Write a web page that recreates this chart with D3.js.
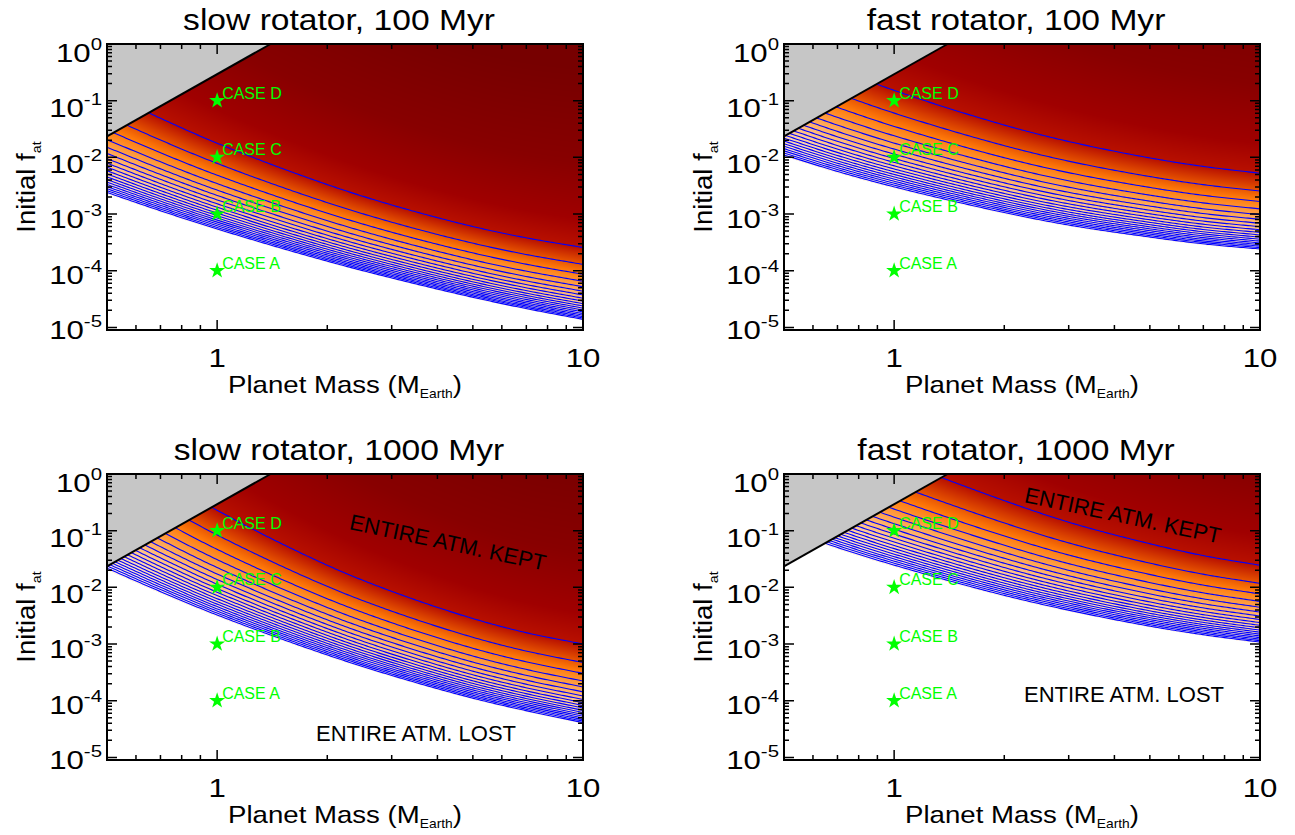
<!DOCTYPE html>
<html>
<head>
<meta charset="utf-8">
<script src="https://cdn.jsdelivr.net/npm/d3@7"></script>
<style>
  body { margin: 0; background: #fff; }
  text { font-family: "Liberation Sans", Arial, sans-serif; }
</style>
</head>
<body>
<svg id="chart" width="1295" height="835"></svg>
<script>
// Data ======================================================

const masses = [0.5, 0.7, 1, 2, 3, 5, 7, 10];

// log10 initial f_at of the edge where the whole atmosphere is lost
const slow100Lost = [-2.65, -2.97, -3.29, -3.855, -4.15, -4.49, -4.69, -4.88];
const fast100Lost = [-1.99, -2.28, -2.55, -3.00, -3.22, -3.43, -3.55, -3.64];
const slow1000Lost = [-1.70, -2.11, -2.52, -3.22, -3.58, -3.98, -4.20, -4.41];
const fast1000Lost = [-1.00, -1.33, -1.64, -2.17, -2.43, -2.71, -2.86, -2.99];

// log10 initial f_at of the 95% kept contour
const slow100Top = [-0.86, -1.31, -1.75, -2.48, -2.84, -3.22, -3.42, -3.59];
const fast100Top = [-0.06, -0.445, -0.818, -1.43, -1.72, -2.01, -2.16, -2.28];
const slow1000Top = [0.55, -0.05, -0.64, -1.61, -2.07, -2.55, -2.80, -3.00];
const fast1000Top = [1.10, 0.67, 0.26, -0.47, -0.85, -1.23, -1.44, -1.61];

// fraction of atmosphere kept, contour levels
const contourLevels = [0.05, 0.10, 0.15, 0.20, 0.25, 0.30, 0.35, 0.40, 0.45, 0.50,
                       0.55, 0.60, 0.65, 0.70, 0.75, 0.80, 0.85, 0.90, 0.95];

// grey forbidden corner, edge from (mass, f_at) to (mass, f_at)
const greyMass = [0.5, 1.40];
const greyFat = [0.0234, 1];

// the four test cases
const caseNames = ["CASE A", "CASE B", "CASE C", "CASE D"];
const caseFat = [1e-4, 1e-3, 1e-2, 1e-1];
const caseMass = 1;

// axes
const xDomain = [0.5, 10];
const yDomain = [9e-6, 1];
const xMajor = [1, 10];
const xMinor = [0.6, 0.7, 0.8, 0.9, 2, 3, 4, 5, 6, 7, 8, 9];
const yMajorExp = [0, -1, -2, -3, -4, -5];
const yMinorMant = [2, 3, 4, 5, 6, 7, 8, 9];

// colours from lost (0) to fully kept
const colourStops = [0, 0.15, 0.4, 0.65, 0.85, 1.05, 1.3, 1.8, 2.8, 4.5];
const colourRange = ["#fff4ea", "#ffe0c0", "#ffbf80", "#ff9a3c", "#ff7a0a",
                     "#e04a00", "#b81000", "#a00000", "#880000", "#770000"];

// Layout =====================================================
const pw = 476, ph = 286;
const panels = [
  { title: "slow rotator, 100 Myr", lost: slow100Lost, top: slow100Top, left: 107, top0: 44 },
  { title: "fast rotator, 100 Myr", lost: fast100Lost, top: fast100Top, left: 784, top0: 44 },
  { title: "slow rotator, 1000 Myr", lost: slow1000Lost, top: slow1000Top, left: 107, top0: 474,
    kept: [448, 542], gone: [416, 741] },
  { title: "fast rotator, 1000 Myr", lost: fast1000Lost, top: fast1000Top, left: 784, top0: 474,
    kept: [1123, 515], gone: [1124, 702] }
];

const svg = d3.select("#chart");
const colour = d3.scaleLinear().domain(colourStops).range(colourRange).clamp(true);
const U95 = -Math.log10(1 - 0.95);

// Helpers ====================================================

// monotone cubic through (xs, ys)
function smooth(xs, ys) {
  const n = xs.length, d = [], m = [];
  for (let i = 0; i < n - 1; i++) d[i] = (ys[i + 1] - ys[i]) / (xs[i + 1] - xs[i]);
  m[0] = d[0]; m[n - 1] = d[n - 2];
  for (let i = 1; i < n - 1; i++) m[i] = d[i - 1] * d[i] <= 0 ? 0 : (d[i - 1] + d[i]) / 2;
  return function(x) {
    let i = Math.max(0, Math.min(n - 2, d3.bisectRight(xs, x) - 1));
    const h = xs[i + 1] - xs[i], t = (x - xs[i]) / h;
    const t2 = t * t, t3 = t2 * t;
    return (2 * t3 - 3 * t2 + 1) * ys[i] + (t3 - 2 * t2 + t) * h * m[i] +
           (-2 * t3 + 3 * t2) * ys[i + 1] + (t3 - t2) * h * m[i + 1];
  };
}

// stretched text, as the original font is wide
function label(g, x, y, size, sx, parts, anchor) {
  const t = g.append("g").attr("transform", `translate(${x},${y}) scale(${sx},1)`)
    .append("text").attr("font-size", size).attr("text-anchor", anchor || "middle").attr("fill", "#000");
  parts.forEach(p => {
    t.append("tspan").text(p[0]).attr("font-size", p[1] || size).attr("dy", p[2] || 0);
  });
  return t;
}

function drawPanel(p, idx) {
  const x = d3.scaleLog().domain(xDomain).range([p.left, p.left + pw]);
  const y = d3.scaleLog().domain(yDomain).range([p.top0 + ph, p.top0]);
  const lm = masses.map(Math.log10);
  const lostFn = smooth(lm, p.lost), topFn = smooth(lm, p.top);
  const g = svg.append("g");

  g.append("clipPath").attr("id", "clip" + idx)
    .append("rect").attr("x", p.left).attr("y", p.top0).attr("width", pw).attr("height", ph);

  // filled map of kept fraction
  const canvas = document.createElement("canvas");
  canvas.width = pw; canvas.height = ph;
  const ctx = canvas.getContext("2d");
  const img = ctx.createImageData(pw, ph);
  for (let i = 0; i < pw; i++) {
    const lmass = Math.log10(x.invert(p.left + i + 0.5));
    const fb = lostFn(lmass), ft = topFn(lmass);
    for (let j = 0; j < ph; j++) {
      const lf = Math.log10(y.invert(p.top0 + j + 0.5));
      const u = (lf - fb) / (ft - fb) * U95;
      const k = (j * pw + i) * 4;
      if (u < 0) {
        img.data[k] = 255; img.data[k + 1] = 255; img.data[k + 2] = 255; img.data[k + 3] = 255;
      } else {
        const c = d3.rgb(colour(u));
        img.data[k] = c.r; img.data[k + 1] = c.g; img.data[k + 2] = c.b; img.data[k + 3] = 255;
      }
    }
  }
  ctx.putImageData(img, 0, 0);
  g.append("image").attr("href", canvas.toDataURL())
    .attr("x", p.left).attr("y", p.top0).attr("width", pw).attr("height", ph);

  // contours of kept fraction
  const samples = d3.range(0, 201).map(i => Math.log10(xDomain[0]) + i / 200 * Math.log10(xDomain[1] / xDomain[0]));
  const line = d3.line().x(d => x(Math.pow(10, d[0]))).y(d => y(Math.pow(10, d[1])));
  g.append("g").attr("clip-path", `url(#clip${idx})`)
    .selectAll("path").data(contourLevels).enter().append("path")
    .attr("d", r => line(samples.map(s => {
      const fb = lostFn(s), ft = topFn(s);
      return [s, fb + (ft - fb) * (-Math.log10(1 - r)) / U95];
    })))
    .attr("fill", "none").attr("stroke", "#0000ff").attr("stroke-width", 1.1);

  // grey corner
  g.append("path")
    .attr("d", `M${x(greyMass[0])},${y(1)}L${x(greyMass[0])},${y(greyFat[0])}L${x(greyMass[1])},${y(greyFat[1])}Z`)
    .attr("fill", "#c6c6c6");
  g.append("line")
    .attr("x1", x(greyMass[0])).attr("y1", y(greyFat[0]))
    .attr("x2", x(greyMass[1])).attr("y2", y(greyFat[1]))
    .attr("stroke", "#000").attr("stroke-width", 2);

  // frame and ticks
  g.append("rect").attr("x", p.left).attr("y", p.top0).attr("width", pw).attr("height", ph)
    .attr("fill", "none").attr("stroke", "#000").attr("stroke-width", 2);
  const xt = xMajor.map(v => [v, 10]).concat(xMinor.map(v => [v, 5]));
  g.selectAll(".xt").data(xt).enter().append("path")
    .attr("d", d => `M${x(d[0])},${p.top0 + ph}v${-d[1]}M${x(d[0])},${p.top0}v${d[1]}`)
    .attr("stroke", "#000").attr("stroke-width", 1.5);
  const yt = [];
  yMajorExp.forEach(e => yt.push([Math.pow(10, e), 10]));
  yMajorExp.concat([-6]).forEach(e => yMinorMant.forEach(m => {
    const v = m * Math.pow(10, e);
    if (v >= yDomain[0] && v < yDomain[1]) yt.push([v, 5]);
  }));
  g.selectAll(".yt").data(yt).enter().append("path")
    .attr("d", d => `M${p.left},${y(d[0])}h${d[1]}M${p.left + pw},${y(d[0])}h${-d[1]}`)
    .attr("stroke", "#000").attr("stroke-width", 1.5);

  // tick labels
  xMajor.forEach(v => label(g, x(v), p.top0 + ph + 37, 26, 1.2, [[String(v)]]));
  yMajorExp.forEach(e => label(g, p.left - 5, y(Math.pow(10, e)) + 18 + 1.3 * e, 26, 1.2,
    [["10"], [String(e), 17, -12]], "end"));

  // axis titles
  label(g, p.left + pw / 2, p.top0 + ph + 63, 24, 1.15,
    [["Planet Mass (M"], ["Earth", 12, 5], [")", 24, -5]]);
  const yl = g.append("g").attr("transform", `translate(${p.left - 72},${p.top0 + ph / 2}) rotate(-90)`);
  label(yl, 0, 0, 25, 1.1, [["Initial f"], ["at", 13, 6]]);

  // title
  label(g, p.left + pw / 2 - 6, p.top0 - 14, 30, 1.12, [[p.title]]);

  // cases
  const star = d3.symbol().type(d3.symbolStar).size(80);
  caseFat.forEach((f, i) => {
    g.append("path").attr("d", star())
      .attr("transform", `translate(${x(caseMass)},${y(f)})`).attr("fill", "#00ff00");
    g.append("text").attr("x", x(caseMass) + 5).attr("y", y(f) - 2)
      .attr("font-size", 16).attr("fill", "#00ff00").text(caseNames[i]);
  });

  // notes
  if (p.kept) {
    g.append("text").attr("x", p.kept[0]).attr("y", p.kept[1] + 8)
      .attr("transform", `rotate(12,${p.kept[0]},${p.kept[1]})`)
      .attr("font-size", 22).attr("text-anchor", "middle").attr("fill", "#000")
      .text("ENTIRE ATM. KEPT");
    g.append("text").attr("x", p.gone[0]).attr("y", p.gone[1])
      .attr("font-size", 22).attr("text-anchor", "middle").attr("fill", "#000")
      .text("ENTIRE ATM. LOST");
  }
}

panels.forEach(drawPanel);
</script>
</body>
</html>
